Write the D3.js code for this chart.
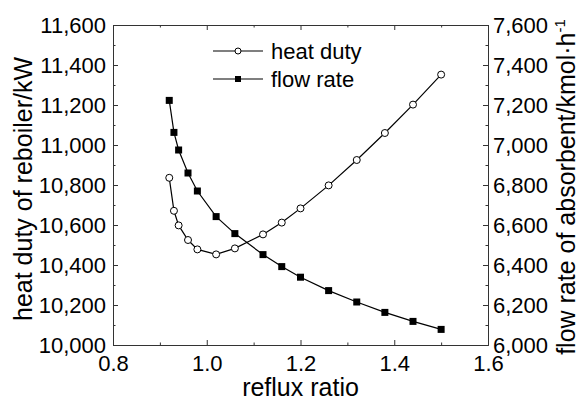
<!DOCTYPE html>
<html>
	<head>
		<meta http-equiv="Content-Type" content="text/html;charset=utf-8"/>
		<title>Reflux ratio</title>
		<script src="https://d3js.org/d3.v7.min.js"></script>
		<style type="text/css">
			body { margin: 0; background: #fff; }
			text { font-family: "Liberation Sans", Arial, sans-serif; fill: #000; }
			.axis path, .axis line { stroke: #333; stroke-width: 1; }
			.axis text { font-size: 22px; }
			.title { font-size: 25px; }
			.legend text { font-size: 22px; }
		</style>
	</head>
	<body>
		<script type="text/javascript">

			//Data
			var refluxRatio = [0.92, 0.93, 0.94, 0.96, 0.98, 1.02, 1.06, 1.12, 1.16, 1.20, 1.26, 1.32, 1.38, 1.44, 1.50];
			var heatDuty = [10836, 10671, 10598, 10525, 10478, 10453, 10483, 10553, 10612, 10683, 10798, 10925, 11060, 11202, 11352];
			var flowRate = [7223, 7063, 6975, 6860, 6770, 6642, 6557, 6452, 6392, 6339, 6272, 6215, 6163, 6118, 6078];

			var xTicks = [0.8, 1.0, 1.2, 1.4, 1.6];
			var leftTicks = [10000, 10200, 10400, 10600, 10800, 11000, 11200, 11400, 11600];
			var rightTicks = [6000, 6200, 6400, 6600, 6800, 7000, 7200, 7400, 7600];

			var w = 579,
				h = 404;

			//plot frame ("top" is taken by window.top, so prefix these)
			var pLeft = 113, pRight = 488, pTop = 25, pBottom = 345;

			var xScale = d3.scaleLinear().domain([0.8, 1.6]).range([pLeft, pRight]);
			var yLeft = d3.scaleLinear().domain([10000, 11600]).range([pBottom, pTop]);
			var yRight = d3.scaleLinear().domain([6000, 7600]).range([pBottom, pTop]);

			var svg = d3.select("body").append("svg")
						.attr("width", w)
						.attr("height", h);

			//minor ticks sit halfway between the major ones
			function halves(t) {
				var out = [];
				for (var i = 0; i < t.length - 1; i++) out.push((t[i] + t[i + 1]) / 2);
				return out;
			}

			//Bottom axis
			svg.append("g").attr("class", "axis")
				.attr("transform", "translate(0," + pBottom + ")")
				.call(d3.axisBottom(xScale).tickValues(xTicks).tickSize(-5).tickSizeOuter(0)
					.tickPadding(10).tickFormat(d3.format(".1f")));
			svg.append("g").attr("class", "axis")
				.attr("transform", "translate(0," + pBottom + ")")
				.call(d3.axisBottom(xScale).tickValues(halves(xTicks)).tickSize(-2.5).tickSizeOuter(0).tickFormat(""));

			//Top axis, no labels
			svg.append("g").attr("class", "axis")
				.attr("transform", "translate(0," + pTop + ")")
				.call(d3.axisTop(xScale).tickValues(xTicks).tickSize(-5).tickSizeOuter(0).tickFormat(""));
			svg.append("g").attr("class", "axis")
				.attr("transform", "translate(0," + pTop + ")")
				.call(d3.axisTop(xScale).tickValues(halves(xTicks)).tickSize(-2.5).tickSizeOuter(0).tickFormat(""));

			//Left axis
			svg.append("g").attr("class", "axis")
				.attr("transform", "translate(" + pLeft + ",0)")
				.call(d3.axisLeft(yLeft).tickValues(leftTicks).tickSize(-5).tickSizeOuter(0)
					.tickPadding(7).tickFormat(d3.format(",")));
			svg.append("g").attr("class", "axis")
				.attr("transform", "translate(" + pLeft + ",0)")
				.call(d3.axisLeft(yLeft).tickValues(halves(leftTicks)).tickSize(-2.5).tickSizeOuter(0).tickFormat(""));

			//Right axis
			svg.append("g").attr("class", "axis")
				.attr("transform", "translate(" + pRight + ",0)")
				.call(d3.axisRight(yRight).tickValues(rightTicks).tickSize(-5).tickSizeOuter(0)
					.tickPadding(5).tickFormat(d3.format(",")));
			svg.append("g").attr("class", "axis")
				.attr("transform", "translate(" + pRight + ",0)")
				.call(d3.axisRight(yRight).tickValues(halves(rightTicks)).tickSize(-2.5).tickSizeOuter(0).tickFormat(""));

			//Lines
			var heatLine = d3.line()
				.x(function(d, i) { return xScale(refluxRatio[i]); })
				.y(function(d) { return yLeft(d); });
			var flowLine = d3.line()
				.x(function(d, i) { return xScale(refluxRatio[i]); })
				.y(function(d) { return yRight(d); });

			svg.append("path").datum(heatDuty)
				.attr("d", heatLine)
				.attr("fill", "none").attr("stroke", "#000").attr("stroke-width", 1.2);
			svg.append("path").datum(flowRate)
				.attr("d", flowLine)
				.attr("fill", "none").attr("stroke", "#000").attr("stroke-width", 1.2);

			//Markers
			svg.selectAll("circle.heat")
				.data(heatDuty)
				.enter()
				.append("circle")
				.attr("class", "heat")
				.attr("cx", function(d, i) { return xScale(refluxRatio[i]); })
				.attr("cy", function(d) { return yLeft(d); })
				.attr("r", 3.5)
				.attr("fill", "#fff")
				.attr("stroke", "#000")
				.attr("stroke-width", 1);

			svg.selectAll("rect.flow")
				.data(flowRate)
				.enter()
				.append("rect")
				.attr("class", "flow")
				.attr("x", function(d, i) { return xScale(refluxRatio[i]) - 3.5; })
				.attr("y", function(d) { return yRight(d) - 3.5; })
				.attr("width", 7)
				.attr("height", 7)
				.attr("fill", "#000");

			//Legend
			var legend = svg.append("g").attr("class", "legend");
			legend.append("line").attr("x1", 213).attr("x2", 263).attr("y1", 51).attr("y2", 51)
				.attr("stroke", "#000").attr("stroke-width", 1.2);
			legend.append("circle").attr("cx", 238).attr("cy", 51).attr("r", 3)
				.attr("fill", "#fff").attr("stroke", "#000");
			legend.append("text").attr("x", 271).attr("y", 51).attr("dy", "0.35em").text("heat duty");

			legend.append("line").attr("x1", 213).attr("x2", 263).attr("y1", 79).attr("y2", 79)
				.attr("stroke", "#000").attr("stroke-width", 1.2);
			legend.append("rect").attr("x", 235).attr("y", 76).attr("width", 6).attr("height", 6)
				.attr("fill", "#000");
			legend.append("text").attr("x", 271).attr("y", 79).attr("dy", "0.35em").text("flow rate");

			//Axis titles
			svg.append("text").attr("class", "title")
				.attr("x", (pLeft + pRight) / 2).attr("y", 396)
				.attr("text-anchor", "middle")
				.text("reflux ratio");

			svg.append("text").attr("class", "title")
				.attr("transform", "translate(32," + 189 + ") rotate(-90)")
				.attr("text-anchor", "middle")
				.text("heat duty of reboiler/kW");

			var rt = svg.append("text").attr("class", "title")
				.attr("transform", "translate(575," + 187 + ") rotate(-90)")
				.attr("text-anchor", "middle");
			rt.append("tspan").text("flow rate of absorbent/kmol\u00b7h");
			rt.append("tspan").attr("font-size", "15px").attr("dy", "-10").text("-1");

		</script>
	</body>
</html>
